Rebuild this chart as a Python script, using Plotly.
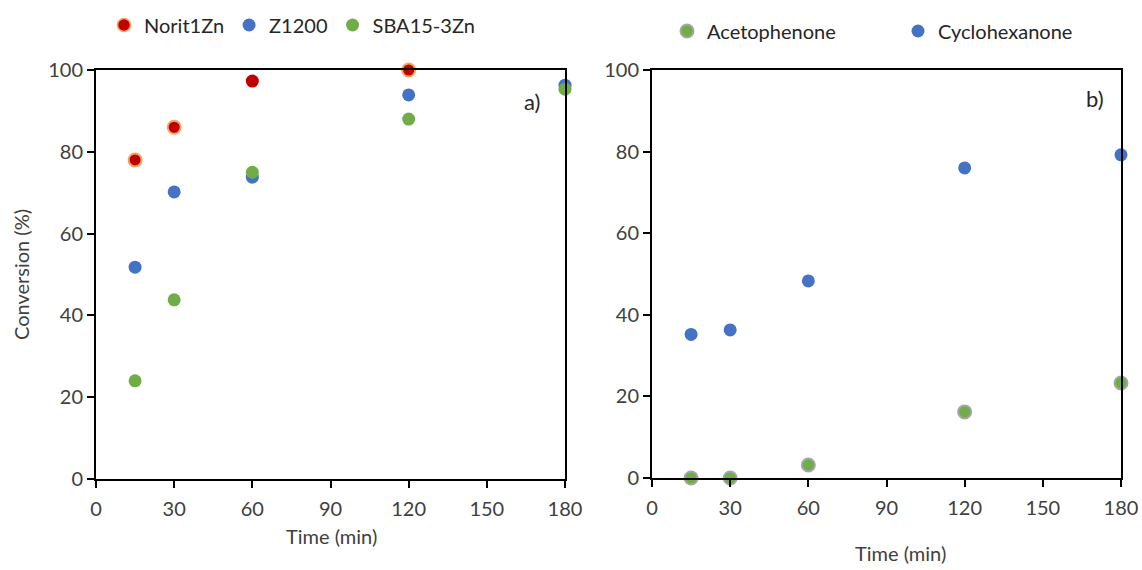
import plotly.graph_objects as go

# Panel a) – catalyst comparison
time_a = [15, 30, 60, 120, 180]
norit1zn = [78, 86, 97.3, 100, None]
z1200 = [51.8, 70.2, 73.8, 93.9, 96.3]
sba15_3zn = [24, 43.8, 75, 88, 95.3]

# Panel b) – substrate comparison
time_b = [15, 30, 60, 120, 180]
acetophenone = [0, 0, 3.2, 16.2, 23.3]
cyclohexanone = [35.2, 36.3, 48.3, 76, 79.2]

x_ticks = [0, 30, 60, 90, 120, 150, 180]
y_ticks = [0, 20, 40, 60, 80, 100]

W, H = 1142, 570
FONT = "Lato"
TXT = "#404040"
FS = 20

RED = "#C00000"
ORANGE = "#F4A460"
BLUE = "#4472C4"
GREEN = "#70AD47"
GREY = "#A5A5A5"

fig = go.Figure()

def add(x, y, name, color, line_color, line_width, xa, ya, legend):
    fig.add_trace(go.Scatter(
        x=x, y=y, name=name, mode="markers", xaxis=xa, yaxis=ya,
        legend=legend, cliponaxis=False,
        marker=dict(size=13, color=color,
                    line=dict(color=line_color, width=line_width)),
    ))

# the 60 min Norit1Zn point is drawn without the orange rim
add(time_a, norit1zn, "Norit1Zn", RED, ORANGE, [2, 2, 0, 2, 2], "x", "y", "legend")
add(time_a, z1200, "Z1200", BLUE, BLUE, 0, "x", "y", "legend")
add(time_a, sba15_3zn, "SBA15-3Zn", GREEN, GREEN, 0, "x", "y", "legend")
add(time_b, acetophenone, "Acetophenone", GREEN, GREY, 2, "x2", "y2", "legend2")
add(time_b, cyclohexanone, "Cyclohexanone", BLUE, BLUE, 0, "x2", "y2", "legend2")

def px_x(p):
    return p / W

def px_y(p):
    return 1 - p / H

axis_common = dict(
    showline=True, linecolor="black", linewidth=2, mirror=True,
    ticks="outside", ticklen=7, tickwidth=1.5, tickcolor="black",
    showgrid=False, zeroline=False, automargin=False,
    tickfont=dict(family=FONT, size=FS, color=TXT),
)
# extra gap between the value axis and its labels
y_gap = "\u2002\u2006"

fig.update_layout(
    width=W, height=H,
    margin=dict(l=0, r=0, t=0, b=0),
    paper_bgcolor="white", plot_bgcolor="white",
    font=dict(family=FONT, color=TXT),
    xaxis=dict(domain=[px_x(96), px_x(565)], range=[0, 180], tickvals=x_ticks,
               anchor="y", ticklabelstandoff=4, **axis_common),
    yaxis=dict(domain=[px_y(479), px_y(70)], range=[0, 100], tickvals=y_ticks,
               anchor="x", ticksuffix=y_gap, **axis_common),
    xaxis2=dict(domain=[px_x(652), px_x(1121)], range=[0, 180], tickvals=x_ticks,
                anchor="y2", ticklabelstandoff=4, **axis_common),
    yaxis2=dict(domain=[px_y(478), px_y(70)], range=[0, 100], tickvals=y_ticks,
                anchor="x2", ticksuffix=y_gap, **axis_common),
    legend=dict(orientation="h", x=px_x(104), y=px_y(25), xanchor="left",
                yanchor="middle", font=dict(family=FONT, size=FS, color="#262626"),
                bgcolor="rgba(0,0,0,0)"),
    legend2=dict(orientation="h", x=px_x(667), y=px_y(31), xanchor="left",
                 yanchor="middle", font=dict(family=FONT, size=FS, color="#262626"),
                 entrywidth=186, entrywidthmode="pixels",
                 bgcolor="rgba(0,0,0,0)"),
    showlegend=True,
)

annots = [
    dict(text="a)", x=px_x(532), y=px_y(101)),
    dict(text="b)", x=px_x(1095), y=px_y(99)),
]
for a in annots:
    fig.add_annotation(xref="paper", yref="paper", showarrow=False,
                       xanchor="center", yanchor="middle",
                       font=dict(family=FONT, size=22, color="#262626"), **a)

titles = [
    dict(text="Time (min)", x=px_x(331), y=px_y(536), textangle=0),
    dict(text="Time (min)", x=px_x(900), y=px_y(553), textangle=0),
    dict(text="Conversion (%)", x=px_x(21), y=px_y(275), textangle=-90),
]
for t in titles:
    fig.add_annotation(xref="paper", yref="paper", showarrow=False,
                       xanchor="center", yanchor="middle",
                       font=dict(family=FONT, size=FS, color=TXT), **t)

fig.write_html("out.html")
